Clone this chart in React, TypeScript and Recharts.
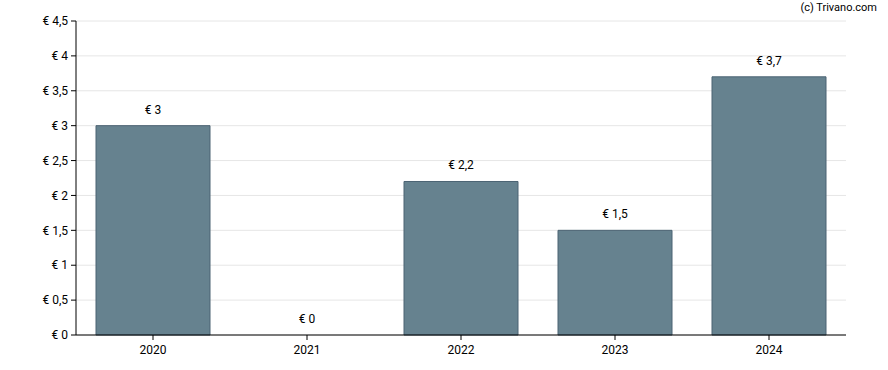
import React from 'react';
import { ComposedChart, Bar, Line, XAxis, YAxis, CartesianGrid, LabelList } from 'recharts';

const years = ['2020', '2021', '2022', '2023', '2024'];
const dividends = [3, 0, 2.2, 1.5, 3.7];
const yTicks = [0, 0.5, 1, 1.5, 2, 2.5, 3, 3.5, 4, 4.5];

const data = years.map((year, i) => ({ year, value: dividends[i] }));

const euro = (v: number) => '€ ' + String(v).replace('.', ',');

const font = 'Roboto, "Liberation Sans", Arial, sans-serif';

const App: React.FC = () => {
  return (
    <div style={{ position: 'absolute', left: 0, top: 0, width: 888, height: 370, fontFamily: font }}>
      <ComposedChart
        width={888}
        height={370}
        data={data}
        margin={{ top: 21, right: 42, bottom: 5, left: 0 }}
        barCategoryGap={20}
      >
        <CartesianGrid vertical={false} stroke="#e6e6e6" />
        <XAxis
          dataKey="year"
          axisLine={{ stroke: '#000' }}
          tickLine={{ stroke: '#000' }}
          tickSize={5}
          tickMargin={5}
          tick={{ fill: '#000', fontSize: 12, fontFamily: font }}
          height={30}
        />
        <YAxis
          width={76}
          domain={[0, 4.5]}
          ticks={yTicks}
          interval={0}
          tickFormatter={euro}
          axisLine={{ stroke: '#000' }}
          tickLine={{ stroke: '#000' }}
          tickSize={5}
          tickMargin={3}
          tick={{ fill: '#000', fontSize: 12, fontFamily: font }}
        />
        <Bar dataKey="value" fill="#66828f" stroke="#4b6373" strokeWidth={1} isAnimationActive={false} />
        {/* invisible line just to carry value labels, so the zero year gets one too */}
        <Line
          dataKey="value"
          stroke="none"
          dot={false}
          activeDot={false}
          isAnimationActive={false}
        >
          <LabelList
            dataKey="value"
            position="top"
            offset={12}
            formatter={(v: any) => euro(Number(v))}
            style={{ fill: '#000', fontSize: 12, fontFamily: font }}
          />
        </Line>
      </ComposedChart>
      <div
        style={{
          position: 'absolute',
          right: 11,
          top: 1,
          fontSize: 11,
          color: '#000',
          fontFamily: font,
        }}
      >
        (c) Trivano.com
      </div>
    </div>
  );
};

export default App;
